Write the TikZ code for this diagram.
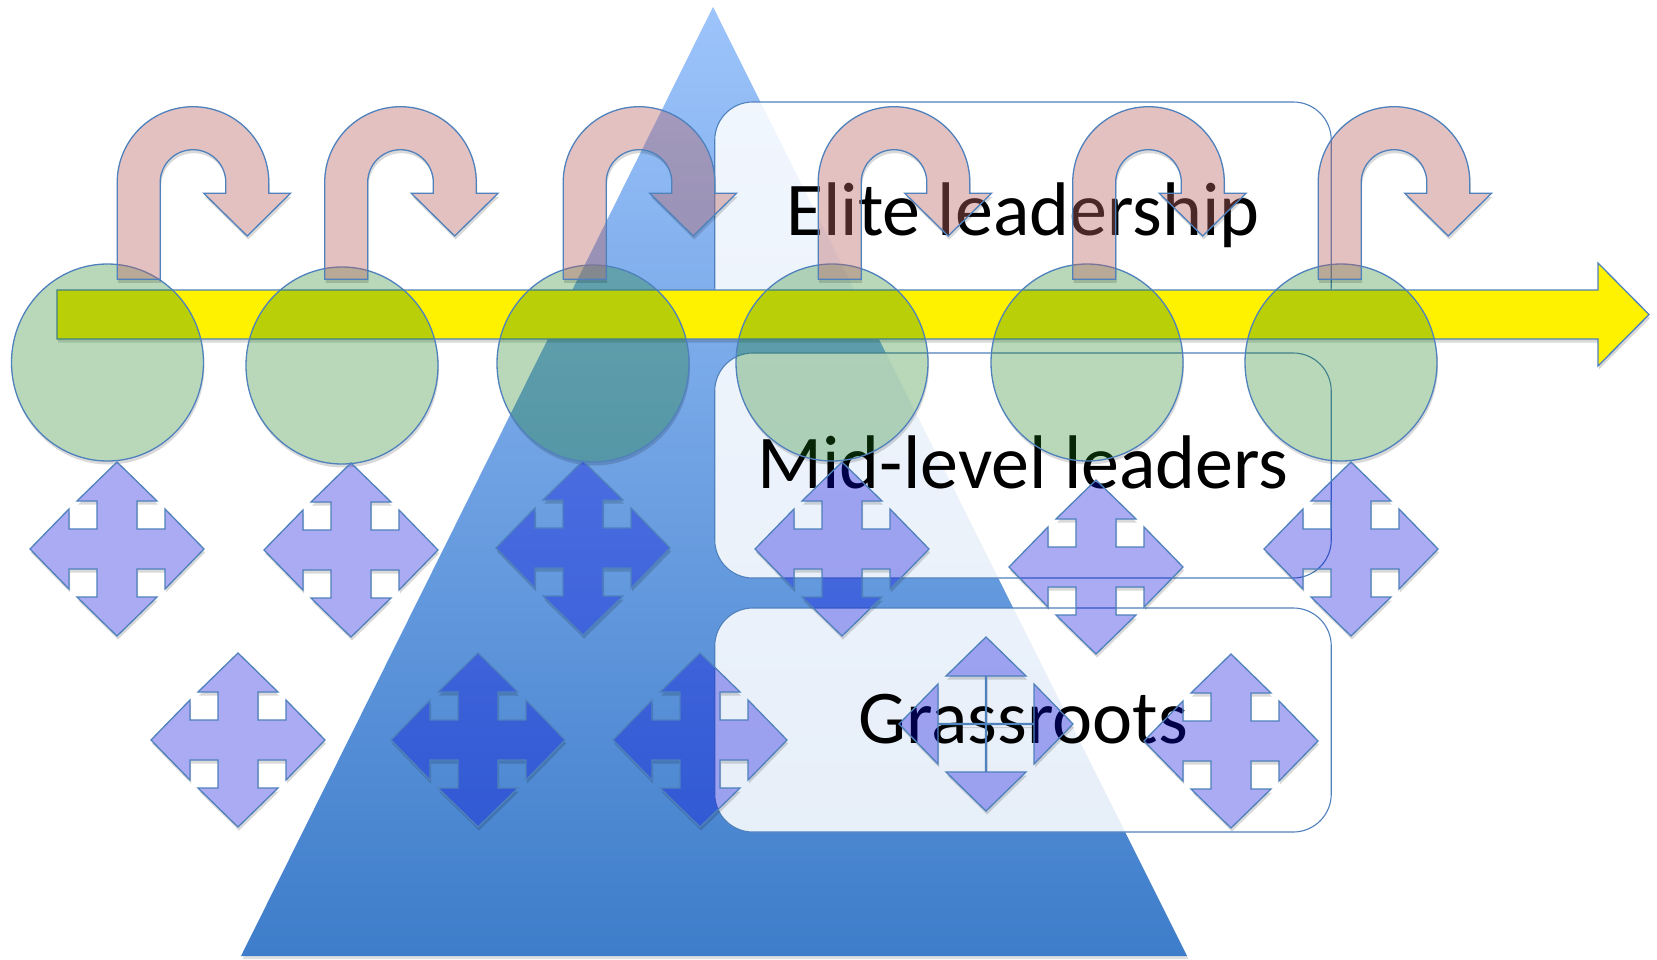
\documentclass[tikz,border=0pt]{standalone}
\usepackage{fontspec}
\setmainfont{Carlito}
\definecolor{ol}{RGB}{79,129,189}
\definecolor{pinkf}{RGB}{185,100,100}
\definecolor{greenf}{RGB}{26,127,26}
\definecolor{bluef}{RGB}{0,0,220}
\definecolor{tritop}{RGB}{157,196,251}
\definecolor{tribot}{RGB}{62,125,202}
\tikzset{
  outl/.style={draw=ol, line width=1.3pt, line join=miter},
  yarrow/.style={outl, fill=yellow},
  circ/.style={outl, fill=greenf, fill opacity=0.3},
  uturn/.style={outl, fill=pinkf, fill opacity=0.4},
  fourarrow/.style={outl, fill=bluef, fill opacity=0.33},
  box/.style={draw=ol, line width=1.1pt, fill=white, fill opacity=0.87, rounded corners=38pt, minimum width=616.5pt, inner sep=0pt},
  lbl/.style={font=\fontsize{76}{80}\selectfont, text=black, inner sep=0pt},
  shadowfill/.style={fill=black, fill opacity=0.15},
}
\def\FW#1{(0,-87) -- (40,-48) -- (#1,-48) -- (#1,-#1) -- (48,-#1) -- (48,-40) -- (87,0) -- (48,40) -- (48,#1) -- (#1,#1) -- (#1,48) -- (40,48) -- (0,87) -- (-40,48) -- (-#1,48) -- (-#1,#1) -- (-48,#1) -- (-48,40) -- (-87,0) -- (-48,-40) -- (-48,-#1) -- (-#1,-#1) -- (-#1,-48) -- (-40,-48) -- cycle}
\def\UT{(-75.8,96.8) -- (-75.8,0) arc[start angle=180,end angle=360,radius=75.8] -- (75.8,10.8) -- (97.5,10.8) -- (54.2,53.5) -- (10.8,10.8) -- (32.8,10.8) -- (32.8,0) arc[start angle=360,end angle=180,radius=32.8] -- (-32.8,96.8) -- cycle}
\newcommand\Shadowed[2]{%
  \begin{scope}[even odd rule]
    \clip (-3000,-3000) rectangle (3000,3000) #2;
    \begin{scope}[shift={(1,3.5)}]\fill[shadowfill] #2;\end{scope}
  \end{scope}
  \path[#1] #2;}
\begin{document}
\begin{tikzpicture}[x=1pt,y=-1pt]
\useasboundingbox[fill=white] (0,0) rectangle (1657,959);
% pyramid
\begin{scope}[shift={(1.5,3)}]
  \fill[black,opacity=0.12] (713,7) -- (1187,956) -- (241,956) -- cycle;
\end{scope}
\shade[top color=tritop, bottom color=tribot] (713,7) -- (1187,956) -- (241,956) -- cycle;
% level boxes
\node[box, minimum height=223pt] (elite) at (1023,213.5) {};
\node[lbl, anchor=base] (eliteTxt) at (1023,235) {Elite leadership};
\node[box, minimum height=225pt] (mid) at (1023,465.5) {};
\node[lbl, anchor=base] (midTxt) at (1023,488) {Mid-level leaders};
\node[box, minimum height=224pt] (grass) at (1023,720) {};
\node[lbl, anchor=base] (grassTxt) at (1023,743) {Grassroots};
% time arrow
\Shadowed{yarrow}{(57,290) -- (1598,290) -- (1598,263) -- (1649,314.5) -- (1598,366) -- (1598,339) -- (57,339) -- cycle}
% circles
\foreach \x/\y in {107.5/362.5, 342/365.5, 593/363.5, 832/362.5, 1087/362.5, 1341/362.5}{
  \begin{scope}[shift={(\x,\y)}]\Shadowed{circ}{(0,0) ellipse[x radius=96, y radius=98.5]}\end{scope}
}
% u-turn arrows
\foreach \x in {193,400.5,639,894,1148.5,1394}{
  \begin{scope}[shift={(\x,182.5)}]\Shadowed{uturn}{\UT}\end{scope}
}
% four-way arrows
\foreach \x/\y in {117/549, 351/550, 583/548, 842/549, 1096/567, 1351/549, 238/740, 478/740, 700/740, 1231/741}{
  \begin{scope}[shift={(\x,\y)}]\Shadowed{fourarrow}{\FW{20}}\end{scope}
}
\begin{scope}[shift={(986,724)}]\Shadowed{fourarrow}{\FW{0.5}}\end{scope}
\end{tikzpicture}
\end{document}
